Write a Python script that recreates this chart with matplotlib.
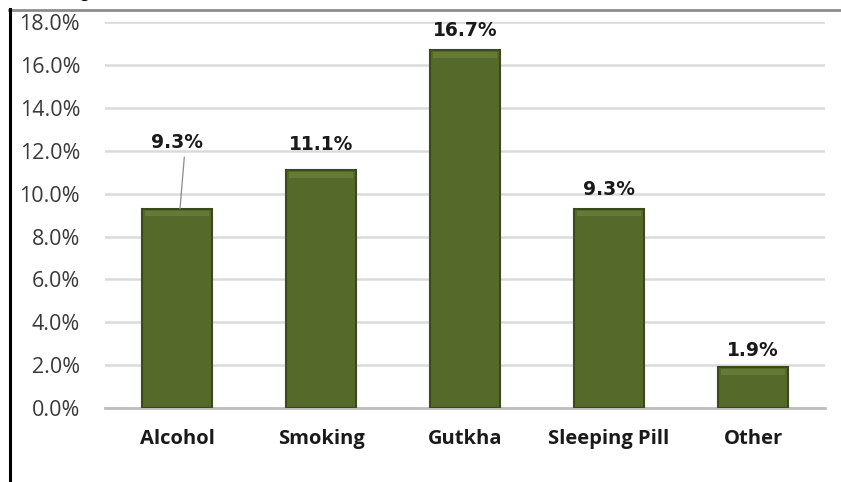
import matplotlib.pyplot as plt
from matplotlib.lines import Line2D

categories = ["Alcohol", "Smoking", "Gutkha", "Sleeping Pill", "Other"]
values = [9.3, 11.1, 16.7, 9.3, 1.9]
# label heights (in %) where the value text sits
label_heights = [12.4, 12.3, 17.6, 10.2, 2.7]
yticks = [0, 2, 4, 6, 8, 10, 12, 14, 16, 18]

bar_face = "#55692B"
bar_edge = "#3A4A1B"

fig = plt.figure(figsize=(8.41, 4.82), dpi=100)
ax = fig.add_axes([0.125, 0.1535, 0.856, 0.8005])

x = list(range(len(categories)))
bars = ax.bar(x, values, width=0.49, color=bar_face, edgecolor=bar_edge,
              linewidth=1.5, zorder=3)

# light bevel strip along the top of each bar
for b in bars:
    ax.bar(b.get_x() + b.get_width() / 2, 0.25, width=b.get_width() * 0.9,
           bottom=b.get_height() - 0.35, color="#7A8F45", alpha=0.45,
           linewidth=0, zorder=4)

for i, (v, h) in enumerate(zip(values, label_heights)):
    ax.text(i, h, f"{v:.1f}%", ha="center", va="center", fontsize=13.5,
            fontweight="bold", color="#1a1a1a", family="DejaVu Sans", zorder=5)

# leader line for the first label
ax.plot([0.05, 0.02], [11.7, 9.3], color="#8a8a8a", linewidth=0.9, zorder=5)

ax.set_xlim(-0.5, len(categories) - 0.5)
ax.set_ylim(0, 18)
ax.set_yticks(yticks)
ax.set_yticklabels([f"{t:.1f}%" for t in yticks], family="Open Sans",
                   fontsize=15.5, color="#3a3a3a")
ax.set_xticks(x)
ax.set_xticklabels(categories, family="Open Sans", fontsize=14.5,
                   fontweight="bold", color="#1a1a1a")
ax.tick_params(axis="y", length=0, pad=18)
ax.tick_params(axis="x", length=0, pad=15)

ax.grid(axis="y", color="#DADADA", linewidth=1.8, zorder=0)
ax.set_axisbelow(True)
for s in ["top", "right", "left"]:
    ax.spines[s].set_visible(False)
ax.spines["bottom"].set_color("#BDBDBD")
ax.spines["bottom"].set_linewidth(2)

# page frame lines and the clipped title glyph
fig.add_artist(Line2D([9 / 841, 1], [1 - 9.5 / 482, 1 - 9.5 / 482],
                      color="#8c8c8c", linewidth=2, transform=fig.transFigure))
fig.add_artist(Line2D([9.5 / 841, 9.5 / 841], [0, 1 - 9 / 482],
                      color="black", linewidth=2.2, transform=fig.transFigure))
fig.text(80 / 841, 1 + 2 / 482, "g", fontsize=13, fontweight="bold",
         va="baseline", family="Lato")

fig.savefig("out.png", dpi=100)
